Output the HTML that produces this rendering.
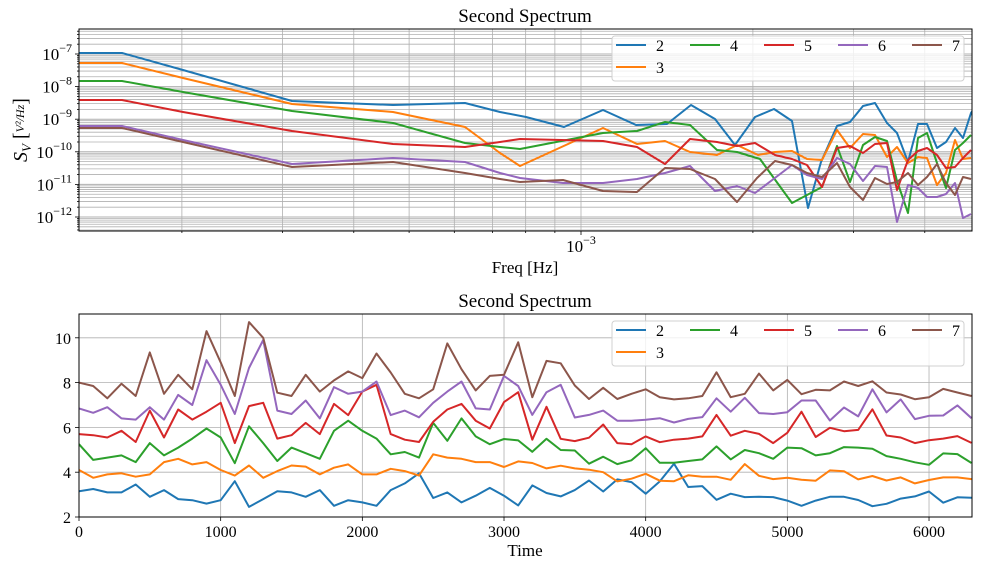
<!DOCTYPE html>
<html><head><meta charset="utf-8"><style>
body{margin:0;background:#fff}
svg text{font-family:"Liberation Serif",serif;fill:#000}
</style></head><body>
<svg id="s" width="982" height="568" xmlns="http://www.w3.org/2000/svg">
<defs>
<clipPath id="c1"><rect x="79" y="29" width="893" height="202"/></clipPath>
<clipPath id="c2"><rect x="79" y="314" width="893" height="203"/></clipPath>
</defs>
<g id="g1" clip-path="url(#c1)"></g>
<g id="g2" clip-path="url(#c2)"></g>
<g id="ax"></g>
<text x="525" y="22" font-size="19" text-anchor="middle">Second Spectrum</text>
<text x="525" y="307" font-size="19" text-anchor="middle">Second Spectrum</text>
<text x="525" y="273" font-size="17" text-anchor="middle">Freq [Hz]</text>
<text x="525" y="556" font-size="17" text-anchor="middle">Time</text>
<g transform="translate(27,130) rotate(-90)"><text x="0" y="0" font-size="20" text-anchor="middle"><tspan font-style="italic">S</tspan><tspan font-size="13" dy="4" font-style="italic">V</tspan><tspan dy="-4"> [</tspan><tspan font-size="12" font-style="italic" dy="-3">V²/Hz</tspan><tspan dy="3">]</tspan></text></g>
</svg>
<script>
var NS="http://www.w3.org/2000/svg";
function el(p,t,a,txt){var e=document.createElementNS(NS,t);for(var k in a)e.setAttribute(k,a[k]);if(txt!=null)e.textContent=txt;p.appendChild(e);return e;}
var g1=document.getElementById('g1'),g2=document.getElementById('g2'),ax=document.getElementById('ax');
var C=['#1f77b4','#ff7f0e','#2ca02c','#d62728','#9467bd','#8c564b'];
function Y1(l){return 54+(-7-l)*32.6;}
for(var d=-13;d<=-6;d++)for(var m=1;m<=9;m++){var y=Y1(d+Math.log10(m));el(g1,'line',{x1:79,x2:972,y1:y,y2:y,stroke:'#b0b0b0','stroke-width':m==1?1:0.8});
 if(y>29&&y<231)el(ax,'line',{x1:79,x2:m==1?75:77,y1:y,y2:y,stroke:'#000','stroke-width':0.8});}
var xv=[2e-4,3e-4,4e-4,5e-4,6e-4,7e-4,8e-4,9e-4,1e-3,2e-3,3e-3,4e-3];
xv.forEach(function(v){var x=581+571*Math.log10(v/1e-3);el(g1,'line',{x1:x,x2:x,y1:29,y2:231,stroke:'#b0b0b0','stroke-width':0.8});el(ax,'line',{x1:x,x2:x,y1:231,y2:v==1e-3?235:233,stroke:'#000','stroke-width':0.8});});
[-7,-8,-9,-10,-11,-12].forEach(function(d){var y=Y1(d);var t=el(ax,'text',{x:72,y:y+6,'font-size':17,'text-anchor':'end'},'10');el(t,'tspan',{dy:-8,'font-size':12},'−'+(-d));});
var t3=el(ax,'text',{x:581,y:252,'font-size':17,'text-anchor':'middle'},'10');el(t3,'tspan',{dy:-8,'font-size':12},'−3');
var T=[
[[79,53],[122,53],[183,70],[292,101],[393,105],[465,103],[500,112],[526,117],[564,127],[603,110],[636,125],[667,124],[691,105],[715,119],[735,145],[755,117],[774,109],[792,121],[808,208],[821,162],[837,126],[850,122],[863,106],[875,103],[887,123],[897,133],[908,162],[918,124],[927,124],[937,148],[946,142],[955,128],[963,138],[971,113],[980,100]],
[[79,63],[122,63],[183,78],[292,104],[393,112],[465,127],[500,153],[520,166],[603,128],[637,144],[665,141],[690,152],[717,155],[737,145],[758,155],[775,152],[792,151],[807,159],[822,160],[837,130],[850,148],[863,134],[875,135],[887,157],[897,147],[908,163],[918,157],[927,158],[937,185],[946,173],[955,140],[963,159],[971,158]],
[[79,81],[122,81],[183,92],[292,111],[393,123],[465,143],[500,147],[520,149],[603,133],[637,131],[665,122],[690,125],[717,150],[737,152],[760,159],[792,203],[822,187],[837,146],[850,182],[863,145],[875,137],[887,141],[897,181],[908,213],[918,138],[927,133],[937,163],[946,188],[955,150],[963,143],[971,135]],
[[79,100],[122,100],[183,112],[292,131],[393,144],[465,147],[500,142],[520,139],[603,141],[637,147],[665,164],[690,139],[717,142],[737,146],[755,143],[775,155],[792,159],[807,165],[822,187],[837,148],[850,146],[863,153],[875,144],[887,143],[897,190],[908,160],[918,151],[927,148],[937,155],[946,168],[955,167],[963,158],[971,150]],
[[79,126],[122,126],[183,140],[292,164],[393,158],[465,162],[500,173],[520,178],[563,183],[603,183],[637,179],[665,173],[690,166],[715,191],[737,186],[755,193],[792,165],[807,175],[822,179],[837,158],[850,164],[863,181],[875,166],[887,167],[897,222],[908,185],[918,188],[927,197],[937,197],[946,194],[955,183],[963,218],[971,214]],
[[79,128],[122,128],[183,142],[292,167],[393,162],[465,173],[500,179],[520,182],[563,180],[603,191],[637,192],[665,168],[690,169],[715,179],[737,202],[757,178],[775,161],[792,165],[807,173],[822,177],[837,163],[850,187],[863,200],[875,178],[887,184],[897,182],[908,173],[918,185],[927,177],[937,164],[946,183],[955,195],[963,177],[971,179]]];
T.forEach(function(s,i){el(g1,'polyline',{points:s.join(' '),fill:'none',stroke:C[i],'stroke-width':2,'stroke-linejoin':'round'});});
function X2(t){return 79+t*0.14167;}function Y2(v){return 517-(v-2)*22.4;}
[2,4,6,8,10].forEach(function(v){var y=Y2(v);el(g2,'line',{x1:79,x2:972,y1:y,y2:y,stroke:'#b0b0b0','stroke-width':0.8});el(ax,'line',{x1:75,x2:79,y1:y,y2:y,stroke:'#000','stroke-width':0.8});el(ax,'text',{x:71,y:y+6,'font-size':16,'text-anchor':'end'},''+v);});
[0,1000,2000,3000,4000,5000,6000].forEach(function(t){var x=X2(t);el(g2,'line',{x1:x,x2:x,y1:314,y2:517,stroke:'#b0b0b0','stroke-width':0.8});el(ax,'line',{x1:x,x2:x,y1:517,y2:521,stroke:'#000','stroke-width':0.8});el(ax,'text',{x:x,y:537,'font-size':16,'text-anchor':'middle'},''+t);});
var B=[
[3.15,3.25,3.1,3.1,3.45,2.9,3.2,2.8,2.75,2.6,2.75,3.6,2.45,2.8,3.15,3.1,2.9,3.2,2.5,2.75,2.65,2.5,3.2,3.5,3.95,2.85,3.1,2.65,2.95,3.3,2.95,2.52,3.41,3.07,2.92,3.2,3.63,3.14,3.68,3.56,3.04,3.59,4.38,3.34,3.38,2.77,3.04,2.89,2.9,2.89,2.73,2.5,2.73,2.9,2.9,2.76,2.48,2.59,2.82,2.92,3.14,2.64,2.88,2.86],
[4.1,3.75,3.9,3.95,3.8,3.9,4.45,4.6,4.35,4.45,4.1,3.85,4.3,3.75,4.05,4.3,4.25,3.9,4.2,4.35,3.9,3.9,4.15,4.05,3.85,4.8,4.65,4.6,4.45,4.45,4.23,4.48,4.41,4.17,4.29,4.17,4.11,4.0,3.59,3.71,3.93,3.62,3.6,3.86,3.8,3.8,3.66,4.36,3.84,3.69,3.75,3.66,3.62,4.08,4.04,3.68,3.83,3.63,3.77,3.5,3.65,3.77,3.77,3.69],
[5.25,4.55,4.65,4.75,4.45,5.3,4.75,5.1,5.5,5.95,5.55,4.4,6.05,5.3,4.5,5.1,4.85,4.6,5.85,6.3,5.85,5.5,4.8,4.9,4.65,6.2,5.4,6.4,5.6,5.25,5.48,5.42,4.91,5.49,4.99,4.97,4.38,4.69,4.36,4.53,5.07,4.42,4.42,4.5,4.57,5.15,4.57,4.99,4.85,4.6,5.1,5.07,4.75,4.85,5.12,5.1,5.05,4.72,4.6,4.44,4.33,4.84,4.81,4.41],
[5.7,5.65,5.55,5.85,5.35,6.75,5.55,6.8,6.35,6.7,7.1,5.3,6.95,7.1,5.5,5.65,6.2,5.7,7.05,6.55,7.6,7.9,5.7,5.45,5.35,6.25,6.8,7.05,6.3,5.95,7.13,7.57,5.45,6.92,5.49,5.39,5.54,6.13,5.3,5.25,5.6,5.34,5.45,5.5,5.6,6.56,5.63,5.85,5.71,5.3,5.76,6.7,5.57,5.98,5.83,5.89,6.81,5.64,5.55,5.3,5.43,5.5,5.61,5.31],
[6.85,6.65,6.9,6.4,6.35,6.9,6.35,7.45,7.0,9.0,7.9,6.6,8.65,9.9,6.75,6.6,7.2,6.4,7.8,7.5,7.6,8.05,6.55,6.75,6.45,7.1,7.6,8.05,6.85,6.8,8.3,7.85,6.56,7.57,7.9,6.44,6.56,6.75,6.3,6.3,6.34,6.41,6.22,6.38,6.46,7.3,6.7,7.32,6.64,6.6,6.68,7.2,7.2,6.31,6.89,6.49,7.7,6.67,7.25,6.37,6.52,6.53,6.98,6.41],
[8.0,7.85,7.3,7.95,7.4,9.35,7.5,8.35,7.7,10.3,8.9,7.4,10.7,10.0,7.55,7.4,8.35,7.6,8.1,8.5,8.2,9.3,8.45,7.5,7.3,7.7,9.75,8.6,7.65,8.3,8.35,9.8,7.35,8.97,8.86,7.87,7.27,7.77,7.27,7.5,7.7,7.35,7.25,7.3,7.4,8.46,7.35,7.5,8.4,7.65,8.12,7.48,7.68,7.65,8.05,7.85,8.06,7.56,7.47,7.26,7.35,7.72,7.56,7.4]];
B.forEach(function(s,i){var p=s.map(function(v,k){return X2(k*100).toFixed(1)+','+Y2(v).toFixed(1);});el(g2,'polyline',{points:p.join(' '),fill:'none',stroke:C[i],'stroke-width':2,'stroke-linejoin':'round'});});
el(ax,'rect',{x:79,y:29,width:893,height:202,fill:'none',stroke:'#000','stroke-width':1});
el(ax,'rect',{x:79,y:314,width:893,height:203,fill:'none',stroke:'#000','stroke-width':1});
[36,321].forEach(function(oy){
 el(ax,'rect',{x:612,y:oy,width:352,height:45,rx:3,fill:'#fff','fill-opacity':0.8,stroke:'#d0d0d0','stroke-width':1});
 var L=[['2',0,0],['4',1,2],['5',2,3],['6',3,4],['7',4,5]];
 L.forEach(function(e){var x=616+e[1]*74;el(ax,'line',{x1:x,x2:x+30,y1:oy+9,y2:oy+9,stroke:C[e[2]],'stroke-width':2});el(ax,'text',{x:x+40,y:oy+15,'font-size':16},e[0]);});
 el(ax,'line',{x1:616,x2:646,y1:oy+31,y2:oy+31,stroke:C[1],'stroke-width':2});el(ax,'text',{x:656,y:oy+37,'font-size':16},'3');
});
</script>
</body></html>
